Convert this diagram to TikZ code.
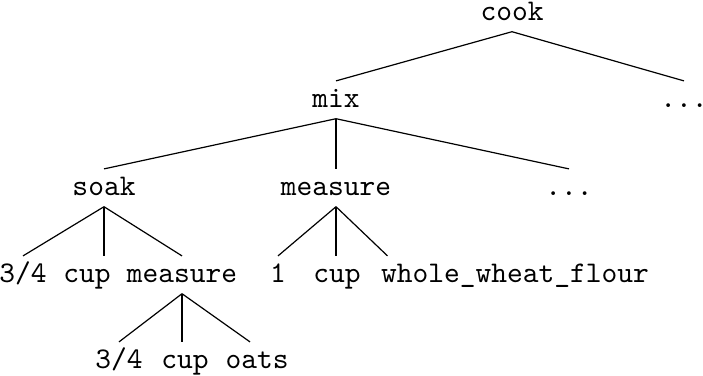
\documentclass[tikz,border=0pt]{standalone}
\usepackage{tikz}

\begin{document}
\begin{tikzpicture}[x=0.3333pt, y=-0.3333pt, word/.style={font=\ttfamily, inner sep=0pt, anchor=base, text height=8.5pt, text depth=3.7pt}]
        \useasboundingbox (0,0) rectangle (703,375);

        \node[word] (cook) at (512,20) {cook};
        \node[word] (mix) at (336,107) {mix};
        \node[word] (more1) at (684,107) {...};
        \node[word] (soak) at (104,195) {soak};
        \node[word] (measure1) at (336,195) {measure};
        \node[word] (more2) at (569,195) {...};
        \node[word] (frac1) at (23,282) {3/4};
        \node[word] (cup1) at (87,282) {cup};
        \node[word] (measure2) at (182,282) {measure};
        \node[word] (one) at (278,282) {1};
        \node[word] (cup2) at (337,282) {cup};
        \node[word] (flour) at (515,282) {whole\_wheat\_flour};
        \node[word] (frac2) at (119,368) {3/4};
        \node[word] (cup3) at (185,368) {cup};
        \node[word] (oats) at (257,368) {oats};

        \path (cook.south) edge (mix.north)
              (cook.south) edge (more1.north)
              (mix.south) edge (soak.north)
              (mix.south) edge (measure1.north)
              (mix.south) edge (more2.north)
              (soak.south) edge (frac1.north)
              (soak.south) edge (soak.south |- cup1.north)
              (soak.south) edge (measure2.north)
              (measure1.south) edge (one.north)
              (measure1.south) edge (measure1.south |- cup2.north)
              (measure1.south) edge ([xshift=7pt*0.3333]flour.north west)
              (measure2.south) edge (frac2.north)
              (measure2.south) edge (measure2.south |- cup3.north)
              (measure2.south) edge ([xshift=-7pt*0.3333]oats.north);
    \end{tikzpicture}
\end{document}
